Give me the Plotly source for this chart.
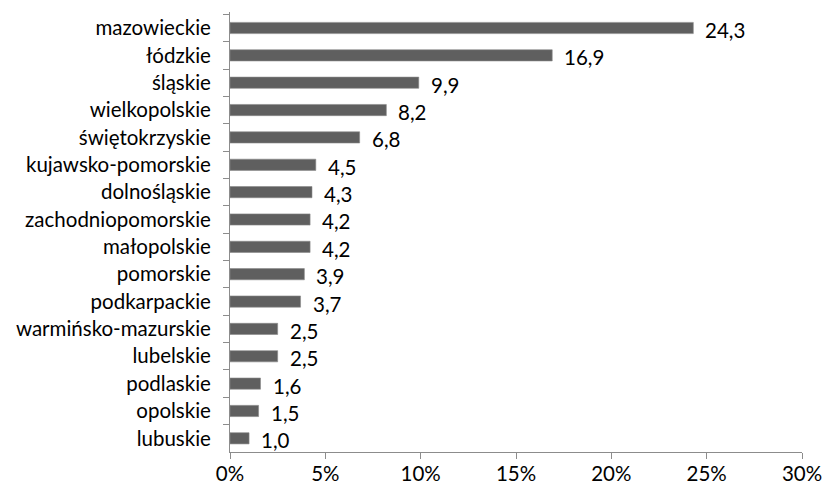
import plotly.graph_objects as go

regions = ["mazowieckie", "łódzkie", "śląskie", "wielkopolskie", "świętokrzyskie",
           "kujawsko-pomorskie", "dolnośląskie", "zachodniopomorskie", "małopolskie",
           "pomorskie", "podkarpackie", "warmińsko-mazurskie", "lubelskie",
           "podlaskie", "opolskie", "lubuskie"]
shares = [24.3, 16.9, 9.9, 8.2, 6.8, 4.5, 4.3, 4.2, 4.2, 3.9, 3.7, 2.5, 2.5, 1.6, 1.5, 1.0]
x_ticks = [0, 5, 10, 15, 20, 25, 30]
x_tick_labels = ["0%", "5%", "10%", "15%", "20%", "25%", "30%"]

FONT = "Lato"
SIZE = 20.5
labels = [f"{v:.1f}".replace(".", ",") for v in shares]

fig = go.Figure(go.Bar(
    x=shares, y=regions, orientation="h",
    marker=dict(color="#5f5f5f", line=dict(color="#8a8a8a", width=0.6)),
    width=0.41,
))

for r, v, t in zip(regions, shares, labels):
    fig.add_annotation(x=v, y=r, text=t, showarrow=False, xanchor="left",
                       xshift=10, yshift=-2, font=dict(family=FONT, size=SIZE, color="#000"))

fig.update_layout(
    width=823, height=489,
    margin=dict(l=230, r=21, t=12, b=37),
    plot_bgcolor="white", paper_bgcolor="white",
    showlegend=False,
    font=dict(family=FONT, size=SIZE, color="#000"),
    xaxis=dict(range=[0, 30], tickvals=x_ticks, ticktext=x_tick_labels, automargin=False,
               showgrid=False, zeroline=False, showline=True, linecolor="#8c8c8c",
               linewidth=1, ticks="outside", ticklen=6, tickcolor="#8c8c8c",
               ticklabelstandoff=-3),
    yaxis=dict(autorange="reversed", showgrid=False, zeroline=False, showline=True,
               automargin=False, linecolor="#8c8c8c", linewidth=1, ticks="outside",
               ticklen=6, tickcolor="#8c8c8c", tickson="boundaries",
               ticklabelstandoff=14),
)

fig.write_html("out.html")
